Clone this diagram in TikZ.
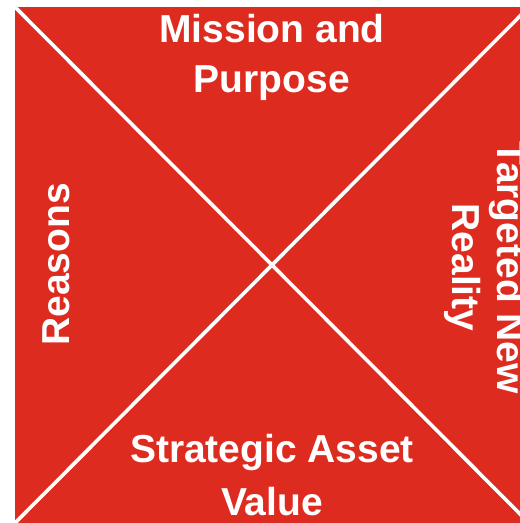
\documentclass[tikz,border=0pt]{standalone}
\usepackage{fontspec}
\setmainfont{Liberation Sans}
\usepackage{xcolor}
\definecolor{quadred}{RGB}{221,43,31}

\begin{document}
\begin{tikzpicture}[x=1pt,y=1pt,
   quad/.style={fill=quadred,draw=none},
   diag/.style={draw=white,line width=3.6pt},
   lbl/.style={text=white,inner sep=0pt,align=center,font=\bfseries\fontsize{39}{50}\selectfont}]
  \useasboundingbox (0,0) rectangle (520,523);
  \clip (0,0) rectangle (520,523);
  % square, partly cut off on the right
  \coordinate (tl) at (15,516);
  \coordinate (tr) at (529,516);
  \coordinate (bl) at (15,0);
  \coordinate (br) at (529,0);
  \fill[quad] (bl) rectangle (tr);
  \draw[diag] (tl) -- (br);
  \draw[diag] (bl) -- (tr);
  % the four labels
  \node[lbl] (mission) at (272,466) {Mission and\\Purpose};
  \node[lbl,font=\bfseries\fontsize{39}{53}\selectfont] (asset) at (272,48) {Strategic Asset\\Value};
  \node[lbl,rotate=90,anchor=base] (reasons) at (70,258.5) {Reasons};
  \node[lbl,rotate=-90,font=\bfseries\fontsize{39}{45}\selectfont] (target) at (484.6,255.5) {Targeted New\\Reality};
\end{tikzpicture}
\end{document}
